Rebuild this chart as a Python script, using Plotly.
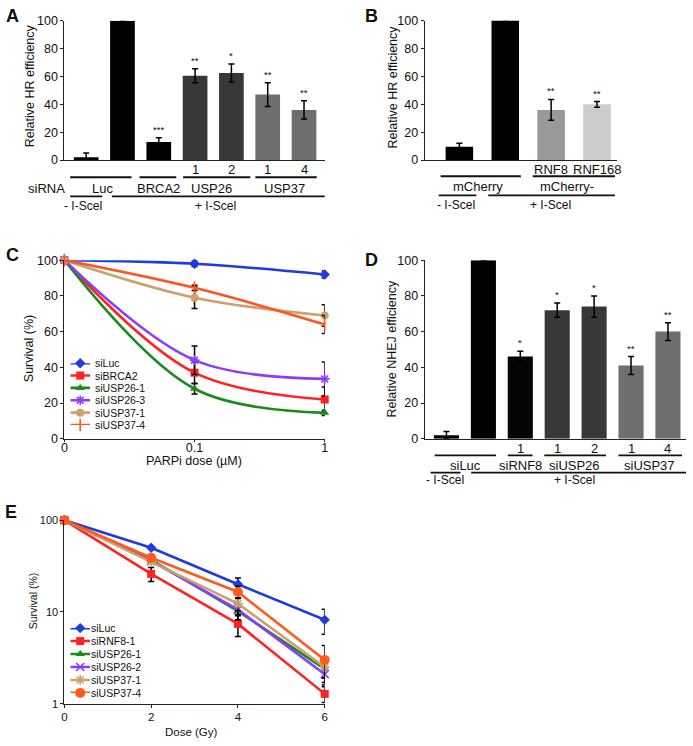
import plotly.graph_objects as go

W, H = 693, 746
FONT = "Liberation Sans, Arial, sans-serif"


def fx(p):
    return p / W


def fy(p):
    return 1 - p / H


# ---------------- Panel A data ----------------
a_pos = [0, 1, 2, 3, 4, 5, 6]
a_values = [2, 100, 13, 60.5, 62.5, 47, 36]
a_errors = [3, 0.5, 3, 5, 6.5, 8.5, 6.5]
a_stars = ["", "", "***", "**", "*", "**", "**"]
a_colors = ["#000000", "#000000", "#000000", "#383838", "#383838", "#6e6e6e", "#6e6e6e"]

# ---------------- Panel B data ----------------
b_pos = [0, 1, 2, 3]
b_values = [9.5, 101, 36, 40]
b_errors = [2.5, 0.5, 7.5, 2]
b_stars = ["", "", "**", "**"]
b_colors = ["#000000", "#000000", "#999999", "#cccccc"]

# ---------------- Panel C data ----------------
c_doses = ["0", "0.1", "1"]
c_names = ["siLuc", "siBRCA2", "siUSP26-1", "siUSP26-3", "siUSP37-1", "siUSP37-4"]
c_values = [
    [100, 98, 92],
    [100, 37, 22],
    [100, 28, 14.5],
    [100, 44, 33.5],
    [100, 79, 69],
    [100, 84.5, 64],
]
c_errors = [
    [0, 1.5, 2],
    [0, 6, 7],
    [0, 3, 1.5],
    [0, 8, 9.5],
    [0, 6, 6],
    [0, 1.5, 5],
]

# ---------------- Panel D data ----------------
d_pos = [0, 1, 2, 3, 4, 5, 6]
d_values = [2, 100, 46, 72, 74, 41, 60]
d_errors = [2, 0.5, 3, 4, 6, 5, 5]
d_stars = ["", "", "*", "*", "*", "**", "**"]
d_colors = ["#000000", "#000000", "#050505", "#383838", "#383838", "#6e6e6e", "#6e6e6e"]

# ---------------- Panel E data ----------------
e_doses = [0, 2, 4, 6]
e_names = ["siLuc", "siRNF8-1", "siUSP26-1", "siUSP26-2", "siUSP37-1", "siUSP37-4"]
e_values = [
    [100, 50, 20, 8.2],
    [100, 26, 7.4, 1.28],
    [100, 37, 10.2, 2.4],
    [100, 36, 10.6, 2.1],
    [100, 35, 12.3, 2.5],
    [100, 39, 16.5, 3.0],
]
e_errors = [
    [0, 0, 3.5, 2.5],
    [0, 4.5, 2, 0.25],
    [0, 0, 2, 0.5],
    [0, 0, 1.5, 0.5],
    [0, 0, 2, 0.6],
    [0, 0, 2.5, 1.3],
]

line_colors_c = ["#1f3be0", "#ff2222", "#1b8a1b", "#8a3cff", "#c9a26e", "#ff5522"]
symbols_c = ["diamond", "square", "triangle-up", "asterisk-open", "circle", "line-ns-open"]
sizes_c = [8, 8, 8, 8, 8, 9]
line_colors_e = ["#1f3be0", "#ff2222", "#1b8a1b", "#8a3cff", "#c9a26e", "#ff5a1f"]
symbols_e = ["diamond", "square", "triangle-up", "x-thin-open", "asterisk-open", "circle"]
sizes_e = [8, 8, 8, 8, 8, 10]

fig = go.Figure()

err_style = dict(type="data", color="#000000", thickness=1.5, width=3)

fig.add_trace(go.Bar(x=a_pos, y=a_values, error_y=dict(array=a_errors, **err_style),
                     marker=dict(color=a_colors, line=dict(width=0)), width=0.68,
                     xaxis="x", yaxis="y", showlegend=False, cliponaxis=False))
fig.add_trace(go.Bar(x=b_pos, y=b_values, error_y=dict(array=b_errors, **err_style),
                     marker=dict(color=b_colors, line=dict(width=0)), width=0.6,
                     xaxis="x2", yaxis="y2", showlegend=False, cliponaxis=False))
fig.add_trace(go.Bar(x=d_pos, y=d_values, error_y=dict(array=d_errors, **err_style),
                     marker=dict(color=d_colors, line=dict(width=0)), width=0.68,
                     xaxis="x4", yaxis="y4", showlegend=False, cliponaxis=False))


def marker_style(sym, col, size):
    open_sym = sym.endswith("-open")
    return dict(symbol=sym, size=size, color=col, line=dict(color=col, width=1.6 if open_sym else 0))


for name, vals, errs, col, sym, sz in zip(c_names, c_values, c_errors, line_colors_c, symbols_c, sizes_c):
    fig.add_trace(go.Scatter(
        x=c_doses, y=vals, name=name, mode="lines+markers",
        line=dict(color=col, width=2.6, shape="spline", smoothing=1.0),
        marker=marker_style(sym, col, sz),
        error_y=dict(array=errs, **err_style),
        xaxis="x3", yaxis="y3", showlegend=False, cliponaxis=False))

for name, vals, errs, col, sym, sz in zip(e_names, e_values, e_errors, line_colors_e, symbols_e, sizes_e):
    fig.add_trace(go.Scatter(
        x=e_doses, y=vals, name=name, mode="lines+markers",
        line=dict(color=col, width=2.6),
        marker=marker_style(sym, col, sz),
        error_y=dict(array=errs, **err_style),
        xaxis="x5", yaxis="y5", showlegend=False, cliponaxis=False))

# Compact legend swatches (legend rows on small hidden axes)
rows = list(range(6))
for i, (col, sym, sz) in enumerate(zip(line_colors_c, symbols_c, sizes_c)):
    fig.add_trace(go.Scatter(x=[0, 1], y=[rows[i], rows[i]], mode="lines", line=dict(color=col, width=2.6),
                             xaxis="x6", yaxis="y6", showlegend=False, hoverinfo="skip", cliponaxis=False))
    fig.add_trace(go.Scatter(x=[0.5], y=[rows[i]], mode="markers", marker=marker_style(sym, col, sz),
                             xaxis="x6", yaxis="y6", showlegend=False, hoverinfo="skip", cliponaxis=False))
for i, (col, sym, sz) in enumerate(zip(line_colors_e, symbols_e, sizes_e)):
    fig.add_trace(go.Scatter(x=[0, 1], y=[rows[i], rows[i]], mode="lines", line=dict(color=col, width=2.6),
                             xaxis="x7", yaxis="y7", showlegend=False, hoverinfo="skip", cliponaxis=False))
    fig.add_trace(go.Scatter(x=[0.5], y=[rows[i]], mode="markers", marker=marker_style(sym, col, sz),
                             xaxis="x7", yaxis="y7", showlegend=False, hoverinfo="skip", cliponaxis=False))

TICK = 12.5
axis_common = dict(showline=True, linecolor="#222222", linewidth=1, showgrid=False, zeroline=False,
                   tickfont=dict(family=FONT, size=TICK, color="#111111"))
yax_common = dict(axis_common, ticks="outside", ticklen=3, tickcolor="#222222")
xbar = dict(axis_common, showticklabels=False, ticks="")
hidden = dict(visible=False, showgrid=False, zeroline=False, fixedrange=True)

fig.update_layout(
    width=W, height=H, margin=dict(l=0, r=0, t=0, b=0),
    paper_bgcolor="white", plot_bgcolor="white",
    font=dict(family=FONT, color="#111111"),
    barmode="overlay", showlegend=False,
    xaxis=dict(xbar, domain=[fx(62), fx(325)], range=[-0.6, 6.57], anchor="y"),
    yaxis=dict(yax_common, domain=[fy(156), fy(14)], range=[0, 100], dtick=20, anchor="x"),
    xaxis2=dict(xbar, domain=[fx(426), fx(620)], range=[-0.756, 3.43], anchor="y2"),
    yaxis2=dict(yax_common, domain=[fy(156), fy(14)], range=[0, 100], dtick=20, anchor="x2"),
    xaxis3=dict(axis_common, domain=[fx(62), fx(325)], type="category", range=[0, 2], anchor="y3",
                ticks="outside", ticklen=2, tickcolor="#222222", ticklabelstandoff=-5),
    yaxis3=dict(yax_common, domain=[fy(440), fy(258)], range=[0, 100], dtick=20, anchor="x3"),
    xaxis4=dict(xbar, domain=[fx(426), fx(690)], range=[-0.59, 6.49], anchor="y4"),
    yaxis4=dict(yax_common, domain=[fy(440), fy(258)], range=[0, 100], dtick=20, anchor="x4"),
    xaxis5=dict(axis_common, domain=[fx(62), fx(325)], range=[0, 6], tickvals=[0, 2, 4, 6], anchor="y5",
                ticks="outside", ticklen=3, tickcolor="#222222",
                tickfont=dict(family=FONT, size=11.5, color="#111111")),
    yaxis5=dict(yax_common, domain=[fy(710), fy(523)], type="log", range=[0, 2],
                tickvals=[1, 10, 100], ticktext=["1", "10", "100"], anchor="x5",
                tickfont=dict(family=FONT, size=11, color="#111111")),
    xaxis6=dict(hidden, domain=[fx(68), fx(88)], range=[0, 1], anchor="y6"),
    yaxis6=dict(hidden, domain=[fy(426), fy(363)], range=[5, 0], anchor="x6"),
    xaxis7=dict(hidden, domain=[fx(68), fx(88)], range=[0, 1], anchor="y7"),
    yaxis7=dict(hidden, domain=[fy(699), fy(633)], range=[5, 0], anchor="x7"),
)

annotations = []
shapes = []


def txt(text, x, y, xref, size=12, bold=False, xanchor="center", angle=0, yref="paper"):
    annotations.append(dict(text=("<b>%s</b>" % text) if bold else text, x=x,
                            y=fy(y) if yref == "paper" else y, xref=xref,
                            yref=yref, showarrow=False, xanchor=xanchor, yanchor="middle",
                            textangle=angle,
                            font=dict(family=FONT, size=size, color="#111111")))


def hline(x0, x1, y, xref):
    shapes.append(dict(type="line", x0=x0, x1=x1, y0=fy(y), y1=fy(y), xref=xref, yref="paper",
                       line=dict(color="#111111", width=1.8)))


# Stars above error bars
for axx, axy, pos_l, val_l, err_l, star_l in [("x", "y", a_pos, a_values, a_errors, a_stars),
                                               ("x2", "y2", b_pos, b_values, b_errors, b_stars),
                                               ("x4", "y4", d_pos, d_values, d_errors, d_stars)]:
    for pos, v, e, s in zip(pos_l, val_l, err_l, star_l):
        if s:
            annotations.append(dict(text=s, x=pos, y=v + e, xref=axx, yref=axy, showarrow=False,
                                    yanchor="bottom", yshift=1,
                                    font=dict(family=FONT, size=9.5, color="#111111")))

# Axis titles
TITLE = 12.5
txt("Relative HR efficiency", fx(28), 80, "paper", TITLE, angle=-90)
txt("Relative HR efficiency", fx(394), 82, "paper", TITLE, angle=-90)
txt("Survival (%)", fx(27), 348, "paper", TITLE, angle=-90)
txt("Relative NHEJ efficiency", fx(393), 349, "paper", TITLE, angle=-90)
txt("Survival (%)", fx(30), 605, "paper", 10.5, angle=-90)
txt("PARPi dose (µM)", fx(193), 463, "paper", 12.5)
txt("Dose (Gy)", fx(190), 739, "paper", 11.5)

# Legend texts
for i, name in enumerate(c_names):
    txt(name, fx(91), rows[i], "paper", 10.5, xanchor="left", yref="y6")
for i, name in enumerate(e_names):
    txt(name, fx(87), rows[i], "paper", 10.5, xanchor="left", yref="y7")

# Panel A labels
GL = 13
for pos, t in zip([3, 4, 5, 6], ["1", "2", "1", "4"]):
    txt(t, pos, 166, "x", GL)
hline(-0.44, 1.25, 173.5, "x")
hline(1.47, 2.48, 173.5, "x")
hline(2.67, 4.52, 173.5, "x")
hline(4.66, 6.35, 173.5, "x")
txt("siRNA", fx(44), 185, "paper", GL)
txt("Luc", 0.44, 185, "x", GL)
txt("BRCA2", 2.0, 185, "x", GL)
txt("USP26", 3.45, 185, "x", GL)
txt("USP37", 5.45, 185, "x", GL)
hline(-0.44, 0.44, 193, "x")
hline(0.71, 6.62, 193, "x")
txt("- I-SceI", -0.08, 203, "x", 12)
txt("+ I-SceI", 3.57, 203, "x", 12)

# Panel B labels
txt("RNF8", 2, 166, "x2", GL)
txt("RNF168", 3, 166, "x2", GL)
hline(-0.41, 1.34, 172.5, "x2")
hline(1.60, 3.39, 172.5, "x2")
txt("mCherry", 0.41, 183, "x2", GL)
txt("mCherry-", 2.35, 183, "x2", GL)
hline(-0.45, 0.37, 192, "x2")
hline(0.63, 3.39, 192, "x2")
txt("- I-SceI", -0.065, 202, "x2", 12)
txt("+ I-SceI", 1.99, 202, "x2", 12)

# Panel D labels
for pos, t in zip([2, 3, 4, 5, 6], ["1", "1", "2", "1", "4"]):
    txt(t, pos, 450, "x4", GL)
hline(-0.32, 1.34, 457, "x4")
hline(1.66, 2.33, 457, "x4")
hline(2.65, 4.32, 457, "x4")
hline(4.66, 6.38, 457, "x4")
txt("siLuc", 0.51, 467, "x4", GL)
txt("siRNF8", 2.01, 467, "x4", GL)
txt("siUSP26", 3.46, 467, "x4", GL)
txt("siUSP37", 5.5, 467, "x4", GL)
hline(-0.43, 0.38, 474.5, "x4")
hline(0.67, 6.49, 474.5, "x4")
txt("- I-SceI", -0.03, 482, "x4", 12)
txt("+ I-SceI", 3.48, 482, "x4", 12)

# Panel letters
txt("A", fx(1), 9, "paper", 18, bold=True, xanchor="left")
txt("B", fx(364), 9, "paper", 18, bold=True, xanchor="left")
txt("C", fx(1), 253, "paper", 18, bold=True, xanchor="left")
txt("D", fx(364), 258, "paper", 18, bold=True, xanchor="left")
txt("E", fx(0), 515, "paper", 18, bold=True, xanchor="left")

fig.update_layout(annotations=annotations, shapes=shapes)
fig.write_html("out.html", config={"displayModeBar": False, "staticPlot": False},
               post_script="document.body.style.margin='0';document.body.style.padding='0';")
